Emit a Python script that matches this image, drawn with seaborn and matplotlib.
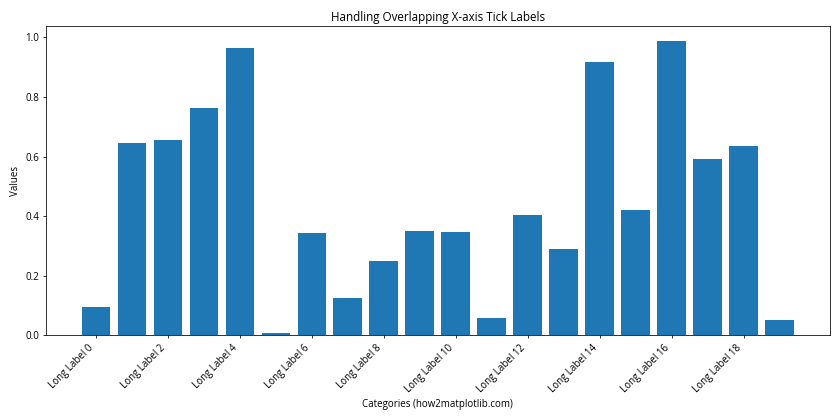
import matplotlib
matplotlib.use('Agg')
import matplotlib.pyplot as plt
import seaborn as sns
import pandas as pd

# bar values
categories = [f'Long Label {i}' for i in range(20)]
values = [0.094, 0.646, 0.657, 0.764, 0.963, 0.007, 0.343, 0.125, 0.249, 0.350,
          0.347, 0.057, 0.404, 0.290, 0.919, 0.421, 0.987, 0.593, 0.636, 0.051]
tick_pos = list(range(0, 20, 2))
tick_labels = [categories[i] for i in tick_pos]

df = pd.DataFrame({'Category': categories, 'Value': values})

plt.rcParams['font.family'] = ['Open Sans', 'DejaVu Sans']
plt.rcParams['font.size'] = 10

fig, ax = plt.subplots(figsize=(12, 6), dpi=70)
sns.barplot(data=df, x='Category', y='Value', order=categories, color='#1f77b4',
            saturation=1, width=0.8, ax=ax)
ax.set_xlim(-1.39, 20.39)
ax.set_ylim(0, 1.037)
ax.set_xticks(tick_pos)
ax.set_xticklabels(tick_labels, rotation=45, ha='right')
ax.set_title('Handling Overlapping X-axis Tick Labels')
ax.set_xlabel('Categories (how2matplotlib.com)')
ax.set_ylabel('Values')
plt.tight_layout()
plt.savefig('out.png', dpi=70)
